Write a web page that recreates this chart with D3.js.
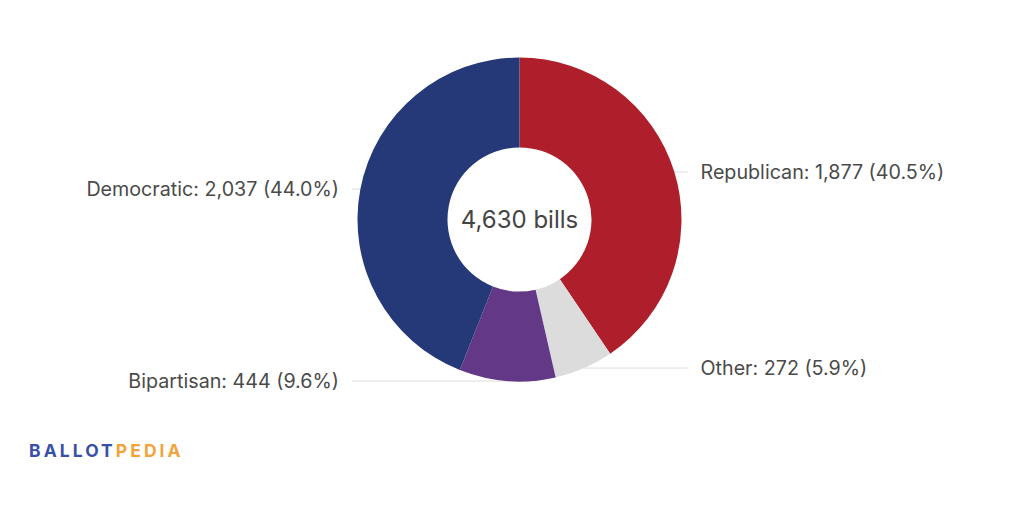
<!DOCTYPE html>
<html>
<head>
<meta charset="utf-8">
<script src="https://cdn.jsdelivr.net/npm/d3@7"></script>
<style>
  html, body { margin: 0; padding: 0; background: #fff; }
  svg { display: block; font-family: Inter, "Noto Sans", sans-serif; }
  .lbl { fill: #4a4a4a; font-size: 19.7px; }
  .lead { stroke: #dedede; stroke-width: 1; fill: none; }
</style>
</head>
<body>
<div id="chart"></div>
<script>
// data
var parties = ["Republican", "Other", "Bipartisan", "Democratic"];
var bills = [1877, 272, 444, 2037];
var colors = ["#af1f2b", "#dcdcdc", "#633987", "#253877"];

var width = 1024, height = 525;
var cx = 519.5, cy = 219.5;
var outerR = 162, innerR = 72;
var total = d3.sum(bills);

var svg = d3.select("#chart").append("svg")
  .attr("width", width).attr("height", height);

var rows = parties.map(function(p, i) {
  return { party: p, value: bills[i], color: colors[i] };
});

var pie = d3.pie().sort(null).value(function(d) { return d.value; });
var arcs = pie(rows);
var arc = d3.arc().innerRadius(innerR).outerRadius(outerR);

var g = svg.append("g").attr("transform", "translate(" + cx + "," + cy + ")");

var fmt = d3.format(",");
var pct = d3.format(".1f");

// leader lines go under the slices
arcs.forEach(function(a) {
  var mid = (a.startAngle + a.endAngle) / 2;
  var x = outerR * Math.sin(mid);
  var y = -outerR * Math.cos(mid);
  var right = x > 0;
  var endX = right ? 168.5 : -167.5;
  g.append("line").attr("class", "lead")
    .attr("x1", x).attr("y1", y).attr("x2", endX).attr("y2", y);
  g.append("text").attr("class", "lbl")
    .attr("x", right ? endX + 12.5 : endX - 13)
    .attr("y", y)
    .attr("dy", "0.35em")
    .attr("text-anchor", right ? "start" : "end")
    .text(a.data.party + ": " + fmt(a.data.value) + " (" + pct(a.data.value / total * 100) + "%)");
});

g.selectAll("path.slice").data(arcs).enter().append("path")
  .attr("class", "slice")
  .attr("d", arc)
  .attr("fill", function(d) { return d.data.color; });

// center label
g.append("text")
  .attr("text-anchor", "middle").attr("dy", "0.35em")
  .attr("fill", "#444").style("font-size", "24px")
  .text(fmt(total) + " bills");

// logo
var logo = svg.append("text")
  .attr("x", 29).attr("y", 457)
  .style("font-size", "17.5px").style("font-weight", "700")
  .style("letter-spacing", "3.05px");
logo.append("tspan").attr("fill", "#3a50a8").text("BALLOT");
logo.append("tspan").attr("fill", "#f2a33a").text("PEDIA");
</script>
</body>
</html>
